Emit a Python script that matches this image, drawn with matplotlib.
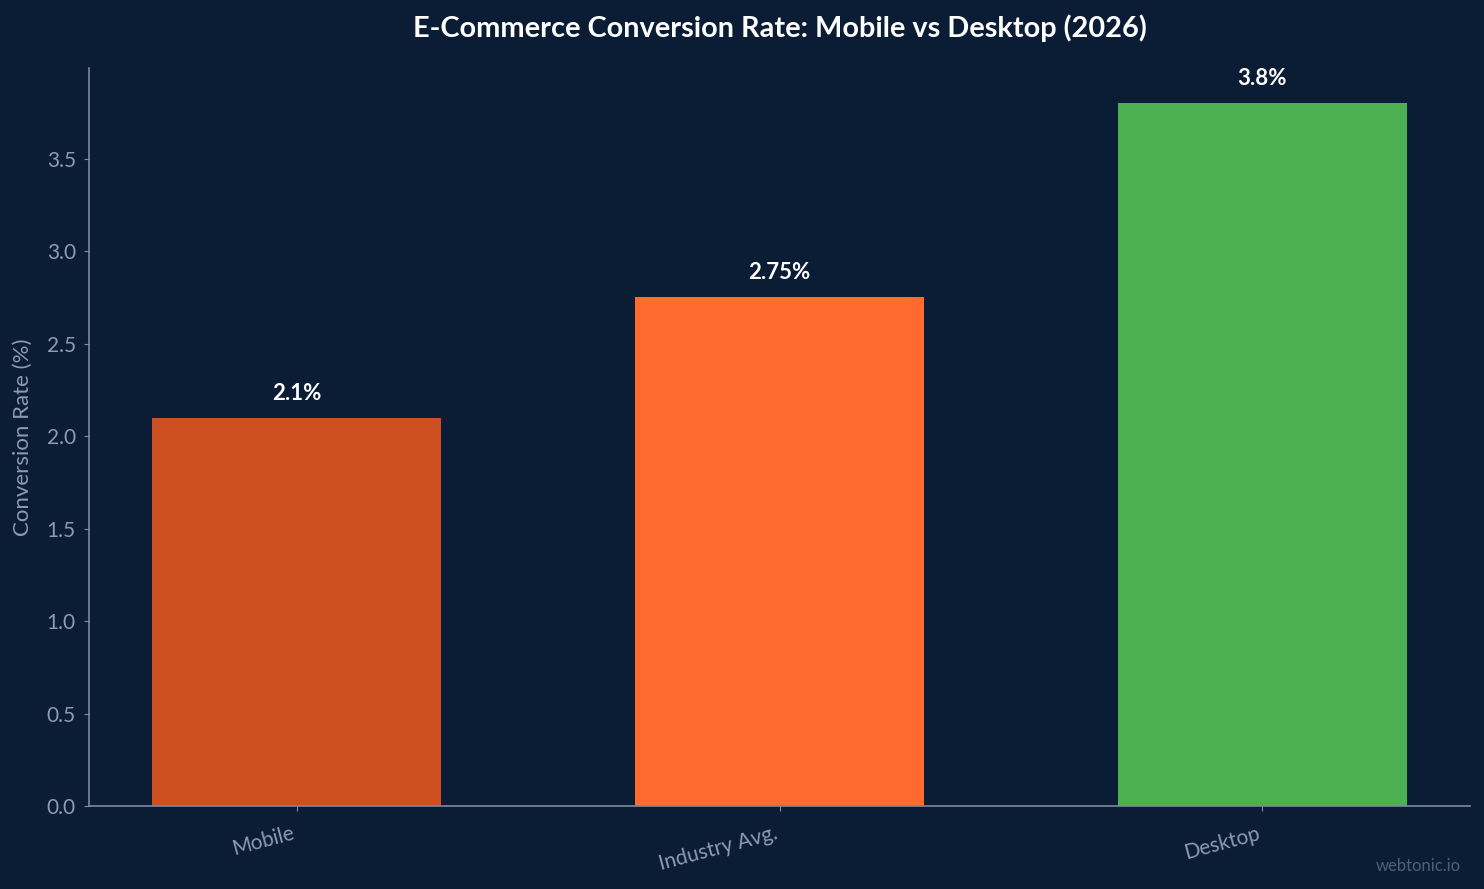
import matplotlib
matplotlib.use("Agg")
import matplotlib.pyplot as plt

categories = ["Mobile", "Industry Avg.", "Desktop"]
values = [2.1, 2.75, 3.8]
value_labels = ["2.1%", "2.75%", "3.8%"]
bar_colors = ["#CD4E1E", "#FF6B2F", "#4CAF50"]

BG = "#0B1C35"
SPINE = "#7A8BA0"
TICK = "#8C9BB0"

plt.rcParams['font.family'] = ['Lato', 'DejaVu Sans']

fig = plt.figure(figsize=(14.84, 8.89), dpi=100, facecolor=BG)
ax = fig.add_axes([89/1484, 1 - 806/889, (1470-89)/1484, (806-68)/889])
ax.set_facecolor(BG)

x = range(len(categories))
bars = ax.bar(x, values, width=0.6, color=bar_colors)
ax.set_ylim(0, 3.99)
ax.set_xticks(list(x))
ax.set_xticklabels(categories, rotation=15, ha='right', fontsize=15, color=TICK)
ax.tick_params(axis='y', labelsize=15, colors=TICK, pad=6)
ax.tick_params(axis='x', colors=SPINE, pad=9)
for lbl in ax.get_xticklabels():
    lbl.set_color(TICK)
for lbl in ax.get_yticklabels():
    lbl.set_color(TICK)
ax.tick_params(axis='y', color=SPINE)

for s in ['top', 'right']:
    ax.spines[s].set_visible(False)
for s in ['left', 'bottom']:
    ax.spines[s].set_color(SPINE)
    ax.spines[s].set_linewidth(1.2)

ax.set_ylabel("Conversion Rate (%)", fontsize=16, color=TICK, labelpad=10)

for b, lab in zip(bars, value_labels):
    ax.annotate(lab, (b.get_x() + b.get_width()/2, b.get_height()),
                xytext=(0, 10), textcoords='offset points',
                ha='center', va='bottom', fontsize=16, fontweight='bold', color='white')

fig.text(779.5/1484, 1 - 28/889, "E-Commerce Conversion Rate: Mobile vs Desktop (2026)",
         ha='center', va='center', fontsize=20.8, fontweight='bold', color='white')
fig.text(1461/1484, 1 - 866/889, "webtonic.io", ha='right', va='center',
         fontsize=12, color='#4E5F78')

fig.savefig("out.png", dpi=100, facecolor=BG)
